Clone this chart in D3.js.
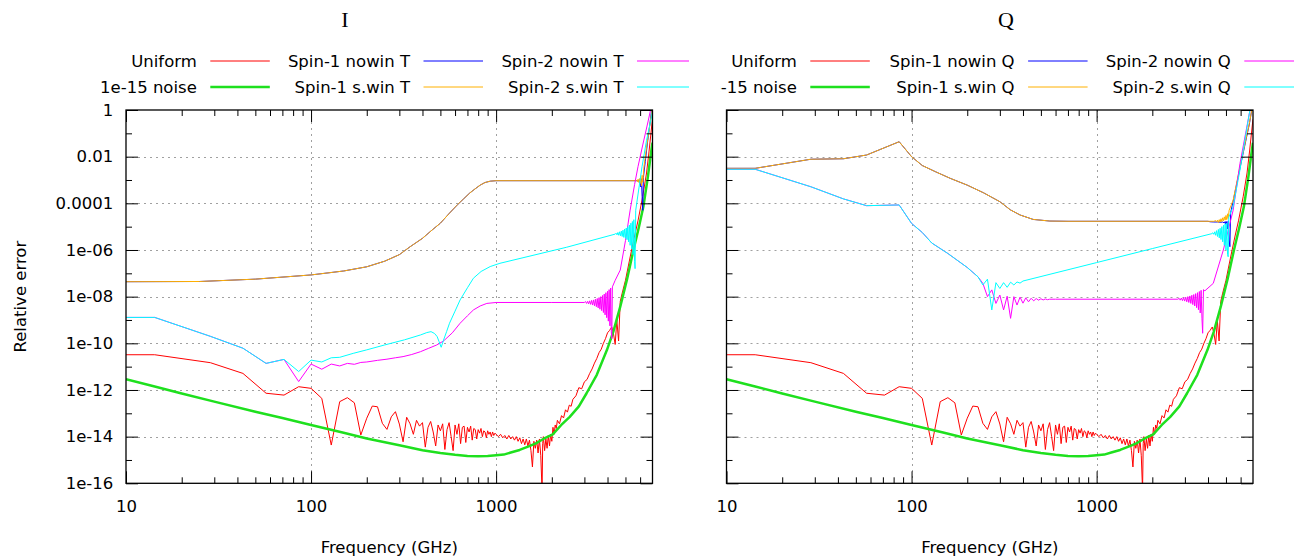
<!DOCTYPE html>
<html>
<head>
<meta charset="utf-8">
<script src="https://cdn.jsdelivr.net/npm/d3@7/dist/d3.min.js"></script>
<style>
  body { margin: 0; background: #fff; }
  svg { display: block; }
  text { font-family: "DejaVu Sans", sans-serif; fill: #000; }
</style>
</head>
<body>
<svg id="chart" width="1294" height="560"></svg>
<script>
// Each series: [frequency in GHz, log10 of the relative error]

// Shared by both panels
const uniform = [
  [10,-10.49],[14.29,-10.49],[28.57,-10.83],[42.86,-11.29],[57.14,-12.14],[71.43,-12.22],[85.71,-11.86],[100,-11.93],
  [114.29,-12.36],[128.57,-14.36],[142.86,-12.5],[157.14,-12.33],[171.43,-12.55],[185.71,-13.93],[200,-13.21],[214.29,-12.69],
  [228.57,-12.72],[242.86,-13.43],[257.14,-13.69],[271.43,-13.15],[285.71,-12.93],[300,-13.46],[314.29,-14.22],[328.57,-13.17],
  [342.86,-13.45],[357.14,-13.9],[371.43,-13.3],[385.71,-13.55],[400,-13.4],[414.29,-14.45],[428.57,-13.6],[442.86,-13.35],
  [457.14,-13.8],[471.43,-14.4],[485.71,-13.5],[500,-13.75],[514.29,-13.45],[528.57,-14.55],[542.86,-13.7],[557.14,-13.4],
  [571.43,-14.0],[585.71,-14.6],[600,-13.5],[614.29,-13.9],[628.57,-13.45],[642.86,-14.3],[657.14,-13.6],[671.43,-13.55],
  [685.71,-14.25],[700,-13.6],[714.29,-13.8],[728.57,-13.55],[742.86,-14.15],[757.14,-13.65],[771.43,-13.7],[785.71,-14.1],
  [800,-13.7],[814.29,-13.85],[828.57,-13.65],[842.86,-14.0],[857.14,-13.75],[871.43,-13.8],[885.71,-14.05],[900,-13.75],
  [914.29,-13.9],[928.57,-13.8],[942.86,-14.0],[957.14,-13.8],[971.43,-13.95],[985.71,-13.85],[1000,-13.9],
  [1028.6,-14.0],[1057.1,-13.9],[1085.7,-14.05],[1114.3,-13.95],[1142.9,-14.1],[1171.4,-13.95],[1200,-14.1],[1228.6,-14.0],
  [1257.1,-14.15],[1285.7,-14.0],[1314.3,-14.2],[1342.9,-14.05],[1371.4,-14.3],[1400,-14.1],[1428.6,-14.35],[1457.1,-14.1],
  [1485.7,-14.4],[1514.3,-14.15],[1542.9,-14.6],[1571.4,-15.3],[1600,-14.2],[1628.6,-14.5],[1657.1,-14.15],[1685.7,-14.7],
  [1714.3,-14.1],[1742.9,-14.8],[1771.4,-16.3],[1785.7,-14.3],[1800,-14.0],[1828.6,-14.6],[1857.1,-14.1],[1885.7,-14.5],
  [1914.3,-13.95],[1942.9,-14.4],[1971.4,-13.9],[2000,-14.2],
  [2028.6,-13.6],[2057.1,-13.9],[2085.7,-13.5],[2114.3,-13.65],[2142.9,-13.3],[2200,-13.45],[2257.1,-13.1],[2314.3,-13.2],
  [2371.4,-12.85],[2428.6,-12.95],[2485.7,-12.65],[2542.9,-12.7],[2600,-12.4],[2700,-12.25],[2800,-11.9],[2900,-11.95],
  [3000,-11.65],[3100,-11.55],[3200,-11.3],[3300,-11.1],[3400,-10.85],[3500,-10.65],[3600,-10.4],[3700,-10.25],
  [3800,-10.0],[3900,-9.8],[4000,-9.55],[4100,-9.45],[4217,-9.3],[4300,-9.55],[4400,-10.05],[4490,-9.0],
  [4590,-9.9],[4687,-8.2],[4800,-7.85],[5000,-7.3],[5300,-6.3],[5600,-5.4],[5844,-4.75],[6200,-3.7],
  [6500,-2.7],[6700,-1.8],[6950,-0.6],[7000,-0.4]
];

const noise = [
  [10,-11.54],[14.29,-11.85],[20,-12.15],[30,-12.5],[50,-12.93],[70,-13.2],[100,-13.5],[150,-13.83],
  [200,-14.08],[300,-14.37],[400,-14.58],[500,-14.7],[600,-14.78],[700,-14.83],[800,-14.84],[900,-14.83],
  [1000,-14.8],[1100,-14.77],[1200,-14.68],[1340,-14.57],[1500,-14.42],[1640,-14.29],[1800,-14.1],[2023,-13.9],
  [2250,-13.5],[2500,-13.15],[2800,-12.7],[3082,-12.14],[3500,-11.35],[3969,-10.29],[4300,-9.5],[4687,-8.43],
  [5100,-7.25],[5524,-6.0],[5900,-5.05],[6251,-4.14],[6600,-2.9],[6926,-1.64],[7000,-1.4]
];

// Temperature (I) panel
const spin1NowinT = [
  [10,-7.36],[25,-7.35],[50,-7.25],[100,-7.07],[150,-6.9],[200,-6.72],[250,-6.48],[300,-6.2],
  [343,-5.86],[400,-5.5],[450,-5.15],[500,-4.85],[560,-4.42],[620,-4.05],[665,-3.82],[720,-3.56],
  [770,-3.38],[820,-3.22],[870,-3.11],[930,-3.05],[1000,-3.03],[3000,-3.03],[5800,-3.03],
  [5850,-3.05],[5900,-3.0],[5950,-3.12],[6000,-2.98],[6050,-3.3],[6100,-2.95],[6150,-3.7],[6200,-4.3],
  [6250,-2.9],[6400,-2.2],[6600,-1.3],[6800,-0.5],[7000,0.3]
];
const spin1SwinT = [
  [10,-7.36],[25,-7.35],[50,-7.25],[100,-7.07],[150,-6.9],[200,-6.72],[250,-6.48],[300,-6.2],
  [343,-5.86],[400,-5.5],[450,-5.15],[500,-4.85],[560,-4.42],[620,-4.05],[665,-3.82],[720,-3.56],
  [770,-3.38],[820,-3.22],[870,-3.11],[930,-3.05],[1000,-3.03],[3000,-3.03],[5700,-3.03],
  [5750,-3.0],[5800,-3.07],[5850,-2.97],[5900,-3.1],[5950,-2.94],[6000,-3.15],[6050,-2.9],[6100,-3.25],
  [6150,-2.8],[6200,-3.1],[6300,-2.4],[6500,-1.6],[6700,-0.9],[6900,-0.2],[7000,0.2]
];
const spin2NowinT = [
  [10,-8.89],[14.29,-8.89],[28.57,-9.7],[42.86,-10.21],[57.14,-10.86],[71.43,-10.69],[85.71,-11.64],[100,-10.89],
  [114.29,-11.11],[128.57,-10.89],[142.86,-10.97],[157.14,-10.86],[171.43,-10.9],[185.71,-10.82],[200,-10.8],[228.57,-10.73],
  [257.14,-10.68],[285.71,-10.62],[314.29,-10.57],[350,-10.48],[390,-10.36],[430,-10.22],[478,-10.07],[520,-9.9],
  [580,-9.55],[639,-9.14],[700,-8.82],[754,-8.57],[820,-8.4],[891,-8.29],[1000,-8.25],[2000,-8.25],[3000,-8.25],
  [3040,-8.21],[3080,-8.29],[3120,-8.2],[3160,-8.31],[3200,-8.18],[3240,-8.33],[3280,-8.16],[3320,-8.36],
  [3360,-8.14],[3400,-8.39],[3440,-8.11],[3480,-8.43],[3520,-8.08],[3560,-8.48],[3600,-8.04],[3640,-8.54],
  [3680,-8.0],[3720,-8.6],[3760,-7.95],[3800,-8.68],[3840,-7.89],[3880,-8.78],[3920,-7.83],[3960,-8.9],
  [4000,-7.77],[4040,-9.05],[4080,-7.7],[4120,-9.25],[4160,-7.63],[4190,-9.5],[4217,-9.8],[4250,-7.58],
  [4400,-7.3],[4687,-6.86],[5000,-5.6],[5300,-4.29],[5600,-3.2],[5844,-2.43],[6200,-1.5],[6650,-0.43],[7000,0.4]
];
const spin2SwinT = [
  [10,-8.89],[14.29,-8.89],[28.57,-9.7],[42.86,-10.21],[57.14,-10.86],[71.43,-10.69],[85.71,-11.21],[100,-10.72],
  [114.29,-10.8],[128.57,-10.62],[142.86,-10.6],[169,-10.43],[200,-10.28],[250,-10.07],[320,-9.85],[391,-9.64],
  [422,-9.54],[445,-9.5],[465,-9.58],[480,-9.71],[492,-9.93],[505,-10.17],[520,-9.86],[540,-9.5],
  [560,-9.14],[600,-8.62],[639,-8.14],[700,-7.62],[754,-7.21],[830,-6.92],[929,-6.71],[1049,-6.57],
  [2410,-5.88],[4400,-5.32],
  [4450,-5.28],[4500,-5.35],[4550,-5.25],[4600,-5.37],[4650,-5.22],[4700,-5.39],[4750,-5.19],[4800,-5.42],
  [4850,-5.15],[4900,-5.46],[4950,-5.1],[5000,-5.5],[5050,-5.06],[5100,-5.56],[5150,-5.0],[5200,-5.65],
  [5250,-4.93],[5300,-5.8],[5350,-4.85],[5400,-5.95],[5450,-4.78],[5500,-6.2],[5550,-4.7],[5600,-6.5],
  [5636,-6.8],[5680,-4.3],[5850,-3.6],[6146,-2.43],[6500,-1.3],[6920,-0.29],[7000,0]
];

// Polarisation (Q) panel
const spin1NowinQ = [
  [10,-2.5],[14.29,-2.5],[28.57,-2.11],[42.86,-2.09],[57.14,-1.93],[85.71,-1.36],[100,-2.0],[114.29,-2.38],
  [135,-2.65],[162,-2.93],[200,-3.22],[245,-3.55],[300,-3.93],[342,-4.28],[386,-4.5],[454,-4.69],
  [559,-4.76],[700,-4.77],[4000,-4.77],[4100,-4.79],[4300,-4.8],[4500,-4.8],[4700,-4.81],[4800,-4.8],
  [4900,-4.84],[4950,-4.78],[5000,-4.9],[5050,-4.78],[5100,-5.1],[5150,-4.75],[5200,-5.57],[5250,-5.86],
  [5300,-4.4],[5470,-3.9],[5950,-2.5],[6690,-0.6],[7000,0.3]
];
const spin1SwinQ = [
  [10,-2.5],[14.29,-2.5],[28.57,-2.11],[42.86,-2.09],[57.14,-1.93],[85.71,-1.36],[100,-2.0],[114.29,-2.38],
  [135,-2.65],[162,-2.93],[200,-3.22],[245,-3.55],[300,-3.93],[342,-4.28],[386,-4.5],[454,-4.69],
  [559,-4.76],[700,-4.77],[4300,-4.77],
  [4400,-4.74],[4450,-4.8],[4500,-4.72],[4550,-4.82],[4600,-4.7],[4650,-4.8],[4700,-4.66],[4750,-4.78],
  [4800,-4.62],[4850,-4.75],[4900,-4.58],[4950,-4.72],[5000,-4.52],[5050,-4.7],[5100,-4.45],[5140,-4.65],
  [5200,-4.3],[5470,-3.86],[5950,-2.43],[6690,-0.57],[7000,0.3]
];
const spin2NowinQ = [
  [10,-2.54],[14.29,-2.54],[28.57,-3.29],[42.86,-3.81],[57.14,-4.1],[85.71,-4.07],[100,-4.86],[114.29,-5.25],
  [128.57,-5.7],[157.14,-6.15],[200,-6.75],[228.57,-7.15],[242.86,-7.43],[257.14,-8.0],[271.43,-7.71],[285.71,-8.29],
  [300,-7.93],[314.29,-8.57],[328.57,-7.98],[342.86,-8.93],[357.14,-8.0],[371.43,-8.36],[385.71,-8.02],[400,-8.28],
  [414.29,-8.05],[428.57,-8.22],[442.86,-8.07],[457.14,-8.18],[471.43,-8.08],[485.71,-8.15],[500,-8.09],[514.29,-8.14],
  [528.57,-8.1],[542.86,-8.13],[557.14,-8.11],[600,-8.11],[2750,-8.11],
  [2790,-8.07],[2830,-8.15],[2870,-8.06],[2910,-8.17],[2950,-8.04],[2990,-8.19],[3030,-8.02],[3070,-8.22],
  [3110,-8.0],[3150,-8.25],[3190,-7.97],[3230,-8.29],[3270,-7.94],[3310,-8.34],[3350,-7.91],[3390,-8.4],
  [3430,-7.87],[3470,-8.47],[3510,-7.83],[3550,-8.56],[3590,-7.78],[3630,-8.7],[3670,-7.73],[3710,-8.95],
  [3742,-9.57],[3780,-7.7],[3846,-7.75],[4270,-7.43],[4840,-6.0],[5470,-4.29],[5950,-2.3],[6690,-0.14],[7000,0.5]
];
const spin2SwinQ = [
  [10,-2.54],[14.29,-2.54],[28.57,-3.29],[42.86,-3.81],[57.14,-4.1],[85.71,-4.07],[100,-4.86],[114.29,-5.25],
  [128.57,-5.7],[157.14,-6.15],[200,-6.75],[228.57,-7.15],[242.86,-7.5],[257.14,-7.25],[271.43,-8.57],[285.71,-7.4],
  [300,-7.65],[314.29,-7.4],[328.57,-7.6],[342.86,-7.38],[357.14,-7.5],[371.43,-7.37],[385.71,-7.42],[400,-7.33],
  [1000,-6.54],[2000,-5.94],[4200,-5.3],
  [4250,-5.26],[4300,-5.33],[4350,-5.22],[4400,-5.37],[4450,-5.17],[4500,-5.42],[4550,-5.12],[4600,-5.48],
  [4650,-5.07],[4700,-5.55],[4750,-5.0],[4800,-5.65],[4850,-4.94],[4900,-5.8],[4950,-4.88],[5000,-6.0],
  [5050,-4.85],[5100,-6.2],[5140,-6.29],[5180,-4.6],[5470,-4.14],[5950,-2.57],[6690,-0.14],[7000,0.6]
];

const legendLabelsI = ["Uniform", "1e-15 noise", "Spin-1 nowin T", "Spin-1 s.win T", "Spin-2 nowin T", "Spin-2 s.win T"];
const legendLabelsQ = ["Uniform", "1e-15 noise", "Spin-1 nowin Q", "Spin-1 s.win Q", "Spin-2 nowin Q", "Spin-2 s.win Q"];
const seriesColors = ["#ff0000", "#1ee01e", "#0000ff", "#ffb000", "#ff00ff", "#00ffff"];
const seriesWidths = [1, 2.5, 1, 1, 1, 1];

const xMajorTicks = [10, 100, 1000];
const xMinorTicks = [20, 30, 40, 50, 60, 70, 80, 90, 200, 300, 400, 500, 600, 700, 800, 900, 2000, 3000, 4000, 5000, 6000];
const yMajorTicks = [1, 1e-2, 1e-4, 1e-6, 1e-8, 1e-10, 1e-12, 1e-14, 1e-16];
const yTickLabels = ["1", "0.01", "0.0001", "1e-06", "1e-08", "1e-10", "1e-12", "1e-14", "1e-16"];
const yMinorTicks = [1e-1, 1e-3, 1e-5, 1e-7, 1e-9, 1e-11, 1e-13, 1e-15];

const svg = d3.select("#chart");
const defs = svg.append("defs");
const FONT = 16.5;

// view: visible horizontal span of the panel; legendView: visible span of its key
const panels = [
  { id: "pI", title: "I", titleX: 345, series: [uniform, noise, spin1NowinT, spin1SwinT, spin2NowinT, spin2SwinT],
    labels: legendLabelsI, x0: 126, x1: 652.5, view: [0, 689], legendView: [0, 689], legendX: [196.8, 410, 623.5] },
  { id: "pQ", title: "Q", titleX: 1006, series: [uniform, noise, spin1NowinQ, spin1SwinQ, spin2NowinQ, spin2SwinQ],
    labels: legendLabelsQ, x0: 726.5, x1: 1253, view: [715, 1294], legendView: [720.5, 1294], legendX: [796.8, 1014.6, 1230.8] }
];
const Y0 = 110, Y1 = 483.3;

const addClip = (id, x, y, w, h) =>
  defs.append("clipPath").attr("id", id).append("rect").attr("x", x).attr("y", y).attr("width", w).attr("height", h);

panels.forEach(p => {
  addClip(p.id + "-view", p.view[0], 0, p.view[1] - p.view[0], 560);
  addClip(p.id + "-key", p.legendView[0], 0, p.legendView[1] - p.legendView[0], 560);
  addClip(p.id + "-plot", p.x0, Y0, p.x1 - p.x0, Y1 - Y0);

  const x = d3.scaleLog().domain([10, 7000]).range([p.x0, p.x1]);
  const y = d3.scaleLog().domain([1e-16, 1]).range([Y1, Y0]);
  const g = svg.append("g").attr("clip-path", `url(#${p.id}-view)`);

  // title
  g.append("text").attr("x", p.titleX).attr("y", 27).attr("text-anchor", "middle")
    .style("font-family", "'Liberation Serif', 'DejaVu Serif', serif").style("font-size", "22px").text(p.title);

  // grid
  const grid = g.append("g").attr("stroke", "#a0a0a0").attr("stroke-width", 1).attr("stroke-dasharray", "2,4");
  grid.selectAll("line.h").data(yMajorTicks.slice(1, -1)).join("line")
    .attr("x1", p.x0).attr("x2", p.x1).attr("y1", d => Math.round(y(d)) + 0.5).attr("y2", d => Math.round(y(d)) + 0.5);
  grid.selectAll("line.v").data(xMajorTicks.slice(1)).join("line")
    .attr("y1", Y0).attr("y2", Y1).attr("x1", d => Math.round(x(d)) + 0.5).attr("x2", d => Math.round(x(d)) + 0.5);

  // series
  const line = d3.line().x(d => x(d[0])).y(d => y(Math.pow(10, d[1])));
  const plot = g.append("g").attr("clip-path", `url(#${p.id}-plot)`);
  p.series.forEach((s, i) => {
    plot.append("path").datum(s).attr("d", line).attr("fill", "none")
      .attr("stroke", seriesColors[i]).attr("stroke-width", seriesWidths[i]).attr("stroke-linejoin", "round");
  });

  // axes: ticks point inward and are mirrored on the opposite sides
  const styleAxis = sel => {
    sel.select(".domain").remove();
    sel.selectAll(".tick line").attr("stroke", "#000");
    sel.selectAll(".tick text").style("font-size", FONT + "px").style("font-family", "'DejaVu Sans', sans-serif").attr("fill", "#000");
  };
  g.append("g").attr("transform", `translate(0,${Y1})`)
    .call(d3.axisBottom(x).tickValues(xMajorTicks).tickFormat(d3.format("d")).tickSizeInner(-12).tickSizeOuter(0).tickPadding(17))
    .call(styleAxis);
  g.append("g").attr("transform", `translate(0,${Y1})`)
    .call(d3.axisBottom(x).tickValues(xMinorTicks).tickFormat("").tickSizeInner(-6).tickSizeOuter(0)).call(styleAxis);
  g.append("g").attr("transform", `translate(0,${Y0})`)
    .call(d3.axisTop(x).tickValues(xMajorTicks).tickFormat("").tickSizeInner(-12).tickSizeOuter(0)).call(styleAxis);
  g.append("g").attr("transform", `translate(0,${Y0})`)
    .call(d3.axisTop(x).tickValues(xMinorTicks).tickFormat("").tickSizeInner(-6).tickSizeOuter(0)).call(styleAxis);
  g.append("g").attr("transform", `translate(${p.x0},0)`)
    .call(d3.axisLeft(y).tickValues(yMajorTicks).tickFormat((d, i) => yTickLabels[i]).tickSizeInner(-12).tickSizeOuter(0).tickPadding(12.7))
    .call(styleAxis);
  g.append("g").attr("transform", `translate(${p.x0},0)`)
    .call(d3.axisLeft(y).tickValues(yMinorTicks).tickFormat("").tickSizeInner(-6).tickSizeOuter(0)).call(styleAxis);
  g.append("g").attr("transform", `translate(${p.x1},0)`)
    .call(d3.axisRight(y).tickValues(yMajorTicks).tickFormat("").tickSizeInner(-12).tickSizeOuter(0)).call(styleAxis);
  g.append("g").attr("transform", `translate(${p.x1},0)`)
    .call(d3.axisRight(y).tickValues(yMinorTicks).tickFormat("").tickSizeInner(-6).tickSizeOuter(0)).call(styleAxis);

  // border
  g.append("rect").attr("x", p.x0).attr("y", Y0).attr("width", p.x1 - p.x0).attr("height", Y1 - Y0)
    .attr("fill", "none").attr("stroke", "#000").attr("stroke-width", 1.3);

  // axis titles
  g.append("text").attr("x", (p.x0 + p.x1) / 2).attr("y", 553).attr("text-anchor", "middle")
    .style("font-size", FONT + "px").text("Frequency (GHz)");
  g.append("text").attr("transform", `translate(${p.x0 - 106},${(Y0 + Y1) / 2}) rotate(-90)`)
    .attr("text-anchor", "middle").attr("dy", "0.35em").style("font-size", FONT + "px").text("Relative error");

  // legend: three columns, two rows, filled column-wise
  const key = svg.append("g").attr("clip-path", `url(#${p.id}-key)`);
  const rowsY = [61, 87];
  p.labels.forEach((lab, i) => {
    const col = Math.floor(i / 2), row = i % 2;
    const tx = p.legendX[col], ty = rowsY[row];
    key.append("text").attr("x", tx).attr("y", ty).attr("dy", "0.35em").attr("text-anchor", "end")
      .style("font-size", FONT + "px").text(lab);
    key.append("line").attr("x1", tx + 13.5).attr("x2", tx + 73).attr("y1", ty).attr("y2", ty)
      .attr("stroke", seriesColors[i]).attr("stroke-width", seriesWidths[i]);
  });
});
</script>
</body>
</html>
